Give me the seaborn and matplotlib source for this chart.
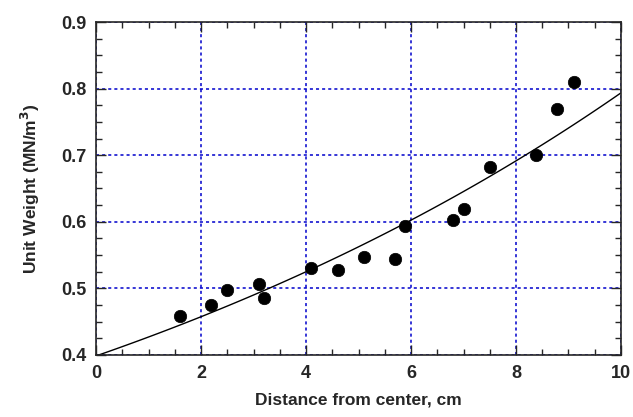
import numpy as np
import pandas as pd
import matplotlib
matplotlib.use("Agg")
import matplotlib.pyplot as plt
from matplotlib.ticker import MultipleLocator
import seaborn as sns

# measured points
distance = [1.6, 2.18, 2.5, 3.1, 3.19, 4.1, 4.6, 5.1, 5.7, 5.89, 6.8, 7.0, 7.5, 8.39, 8.79, 9.1]
unit_weight = [0.459, 0.475, 0.497, 0.506, 0.486, 0.531, 0.527, 0.547, 0.544, 0.594,
               0.603, 0.619, 0.682, 0.701, 0.770, 0.810]

df = pd.DataFrame({"x": distance, "y": unit_weight})

# exponential fit y = a*exp(b*x)
b, ln_a = np.polyfit(df["x"], np.log(df["y"]), 1)
x_fit = np.linspace(0, 10, 101)
fit = pd.DataFrame({"x": x_fit, "y": np.exp(ln_a) * np.exp(b * x_fit)})

sns.set_style("ticks")
plt.rcParams["font.family"] = ["Liberation Sans", "DejaVu Sans"]
plt.rcParams["font.weight"] = "bold"

fig, ax = plt.subplots(figsize=(6.33, 4.17), dpi=100)
fig.subplots_adjust(left=0.152, right=0.981, top=0.947, bottom=0.149)

sns.lineplot(data=fit, x="x", y="y", color="black", linewidth=1.0, ax=ax)
sns.scatterplot(data=df, x="x", y="y", color="black", s=80, edgecolor="black",
                linewidth=0.5, ax=ax, zorder=5)

ax.set_xlim(0, 10)
ax.set_ylim(0.4, 0.9)
ax.xaxis.set_minor_locator(MultipleLocator(0.5))
ax.yaxis.set_minor_locator(MultipleLocator(0.025))
ax.set_xticks(np.arange(0, 11, 2))
ax.set_xticklabels([str(v) for v in range(0, 11, 2)])
ax.set_yticks(np.arange(0.4, 0.91, 0.1))
ax.set_yticklabels([f"{v:.1f}" for v in np.arange(0.4, 0.91, 0.1)])

ax.tick_params(which="both", direction="in", top=True, right=True, labelsize=13)
ax.tick_params(which="major", length=7, width=1, pad=7)
ax.tick_params(which="minor", length=4, width=1)
for lab in ax.get_xticklabels() + ax.get_yticklabels():
    lab.set_fontweight("bold")

ax.grid(True, which="major", color="#0000CC", linestyle=(0, (2, 2)), linewidth=1.1)
for s in ax.spines.values():
    s.set_linewidth(1.2)

ax.set_xlabel("Distance from center, cm", fontsize=12.5, fontweight="bold", labelpad=8)
ax.set_ylabel("Unit Weight (MN/m$^\\mathbf{3}$)", fontsize=12.5, fontweight="bold", labelpad=14)

fig.savefig("out.png", dpi=100)
